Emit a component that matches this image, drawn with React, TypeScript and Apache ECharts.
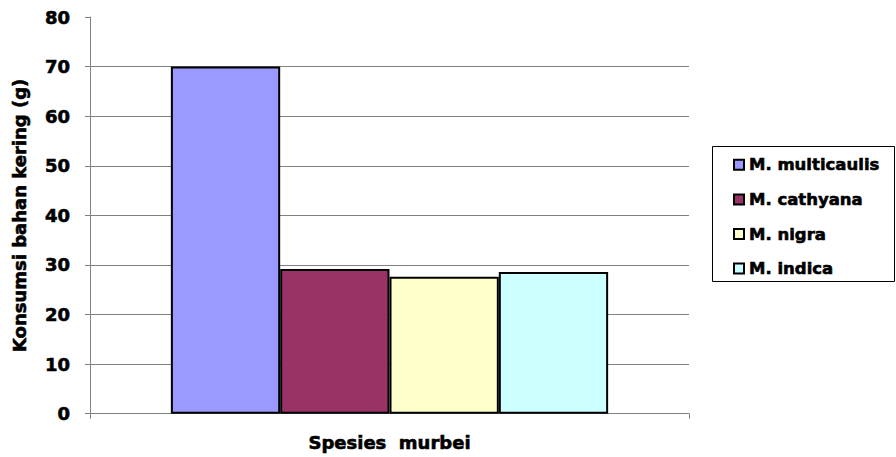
import React, { useEffect, useRef } from "react";
import * as echarts from "echarts";

const categories = ["Spesies"];
const seriesNames = ["M. multicaulis", "M. cathyana", "M. nigra", "M. indica"];
const seriesValues = [70, 29.2, 27.6, 28.6];
const seriesColors = ["#9999FF", "#993366", "#FFFFCC", "#CCFFFF"];
const yMin = 0;
const yMax = 80;
const yInterval = 10;
const xAxisName = "Spesies  murbei";
const yAxisName = "Konsumsi bahan kering (g)";

const FONT = "DejaVu Sans";
const heavy = { textBorderColor: "#000", textBorderWidth: 0.6 };

export default function App() {
  const ref = useRef<HTMLDivElement>(null);
  useEffect(() => {
    if (!ref.current) return;
    const chart = echarts.init(ref.current, undefined, { renderer: "svg" });
    chart.setOption({
      animation: false,
      backgroundColor: "#ffffff",
      textStyle: { fontFamily: FONT },
      grid: { left: 90, right: 207, top: 17, bottom: 43, containLabel: false },
      legend: {
        orient: "vertical",
        left: 733,
        top: 156,
        padding: 0,
        itemWidth: 10,
        itemHeight: 10,
        itemGap: 17,
        icon: "rect",
        data: seriesNames,
        textStyle: { fontFamily: FONT, fontWeight: "bold", fontSize: 16.5, color: "#000", ...heavy },
        selectedMode: false,
      },
      graphic: [
        {
          type: "rect",
          z: 0,
          shape: { x: 712.5, y: 146.5, width: 182, height: 135 },
          style: { fill: "#ffffff", stroke: "#000000", lineWidth: 1 },
        },
      ],
      xAxis: {
        type: "category",
        data: categories,
        name: xAxisName,
        nameLocation: "middle",
        nameGap: 20,
        nameTextStyle: { fontFamily: FONT, fontWeight: "bold", fontSize: 18, color: "#000", ...heavy },
        axisLine: { show: true, lineStyle: { color: "#808080", width: 1 } },
        axisTick: { show: true, length: 5, inside: false, lineStyle: { color: "#808080" } },
        axisLabel: { show: false },
        splitLine: { show: false },
      },
      yAxis: {
        type: "value",
        min: yMin,
        max: yMax,
        interval: yInterval,
        name: yAxisName,
        nameLocation: "middle",
        nameGap: 62,
        nameTextStyle: { fontFamily: FONT, fontWeight: "bold", fontSize: 18, color: "#000", ...heavy },
        axisLine: { show: true, lineStyle: { color: "#808080", width: 1 } },
        axisTick: { show: true, length: 5, inside: false, lineStyle: { color: "#808080" } },
        axisLabel: { fontFamily: FONT, fontWeight: "bold", fontSize: 18, color: "#000", margin: 20, ...heavy },
        splitLine: { show: true, showMaxLine: false, lineStyle: { color: "#808080", width: 1.2 } },
      },
      series: seriesNames.map((name, i) => ({
        name,
        type: "bar",
        data: [seriesValues[i]],
        barGap: "0%",
        barCategoryGap: "27%",
        itemStyle: { color: seriesColors[i], borderColor: "#000000", borderWidth: 2 },
        z: 3,
      })),
    });
    return () => chart.dispose();
  }, []);
  return (
    <div
      ref={ref}
      style={{ position: "fixed", left: 0, top: 0, width: 896, height: 457 }}
    />
  );
}
